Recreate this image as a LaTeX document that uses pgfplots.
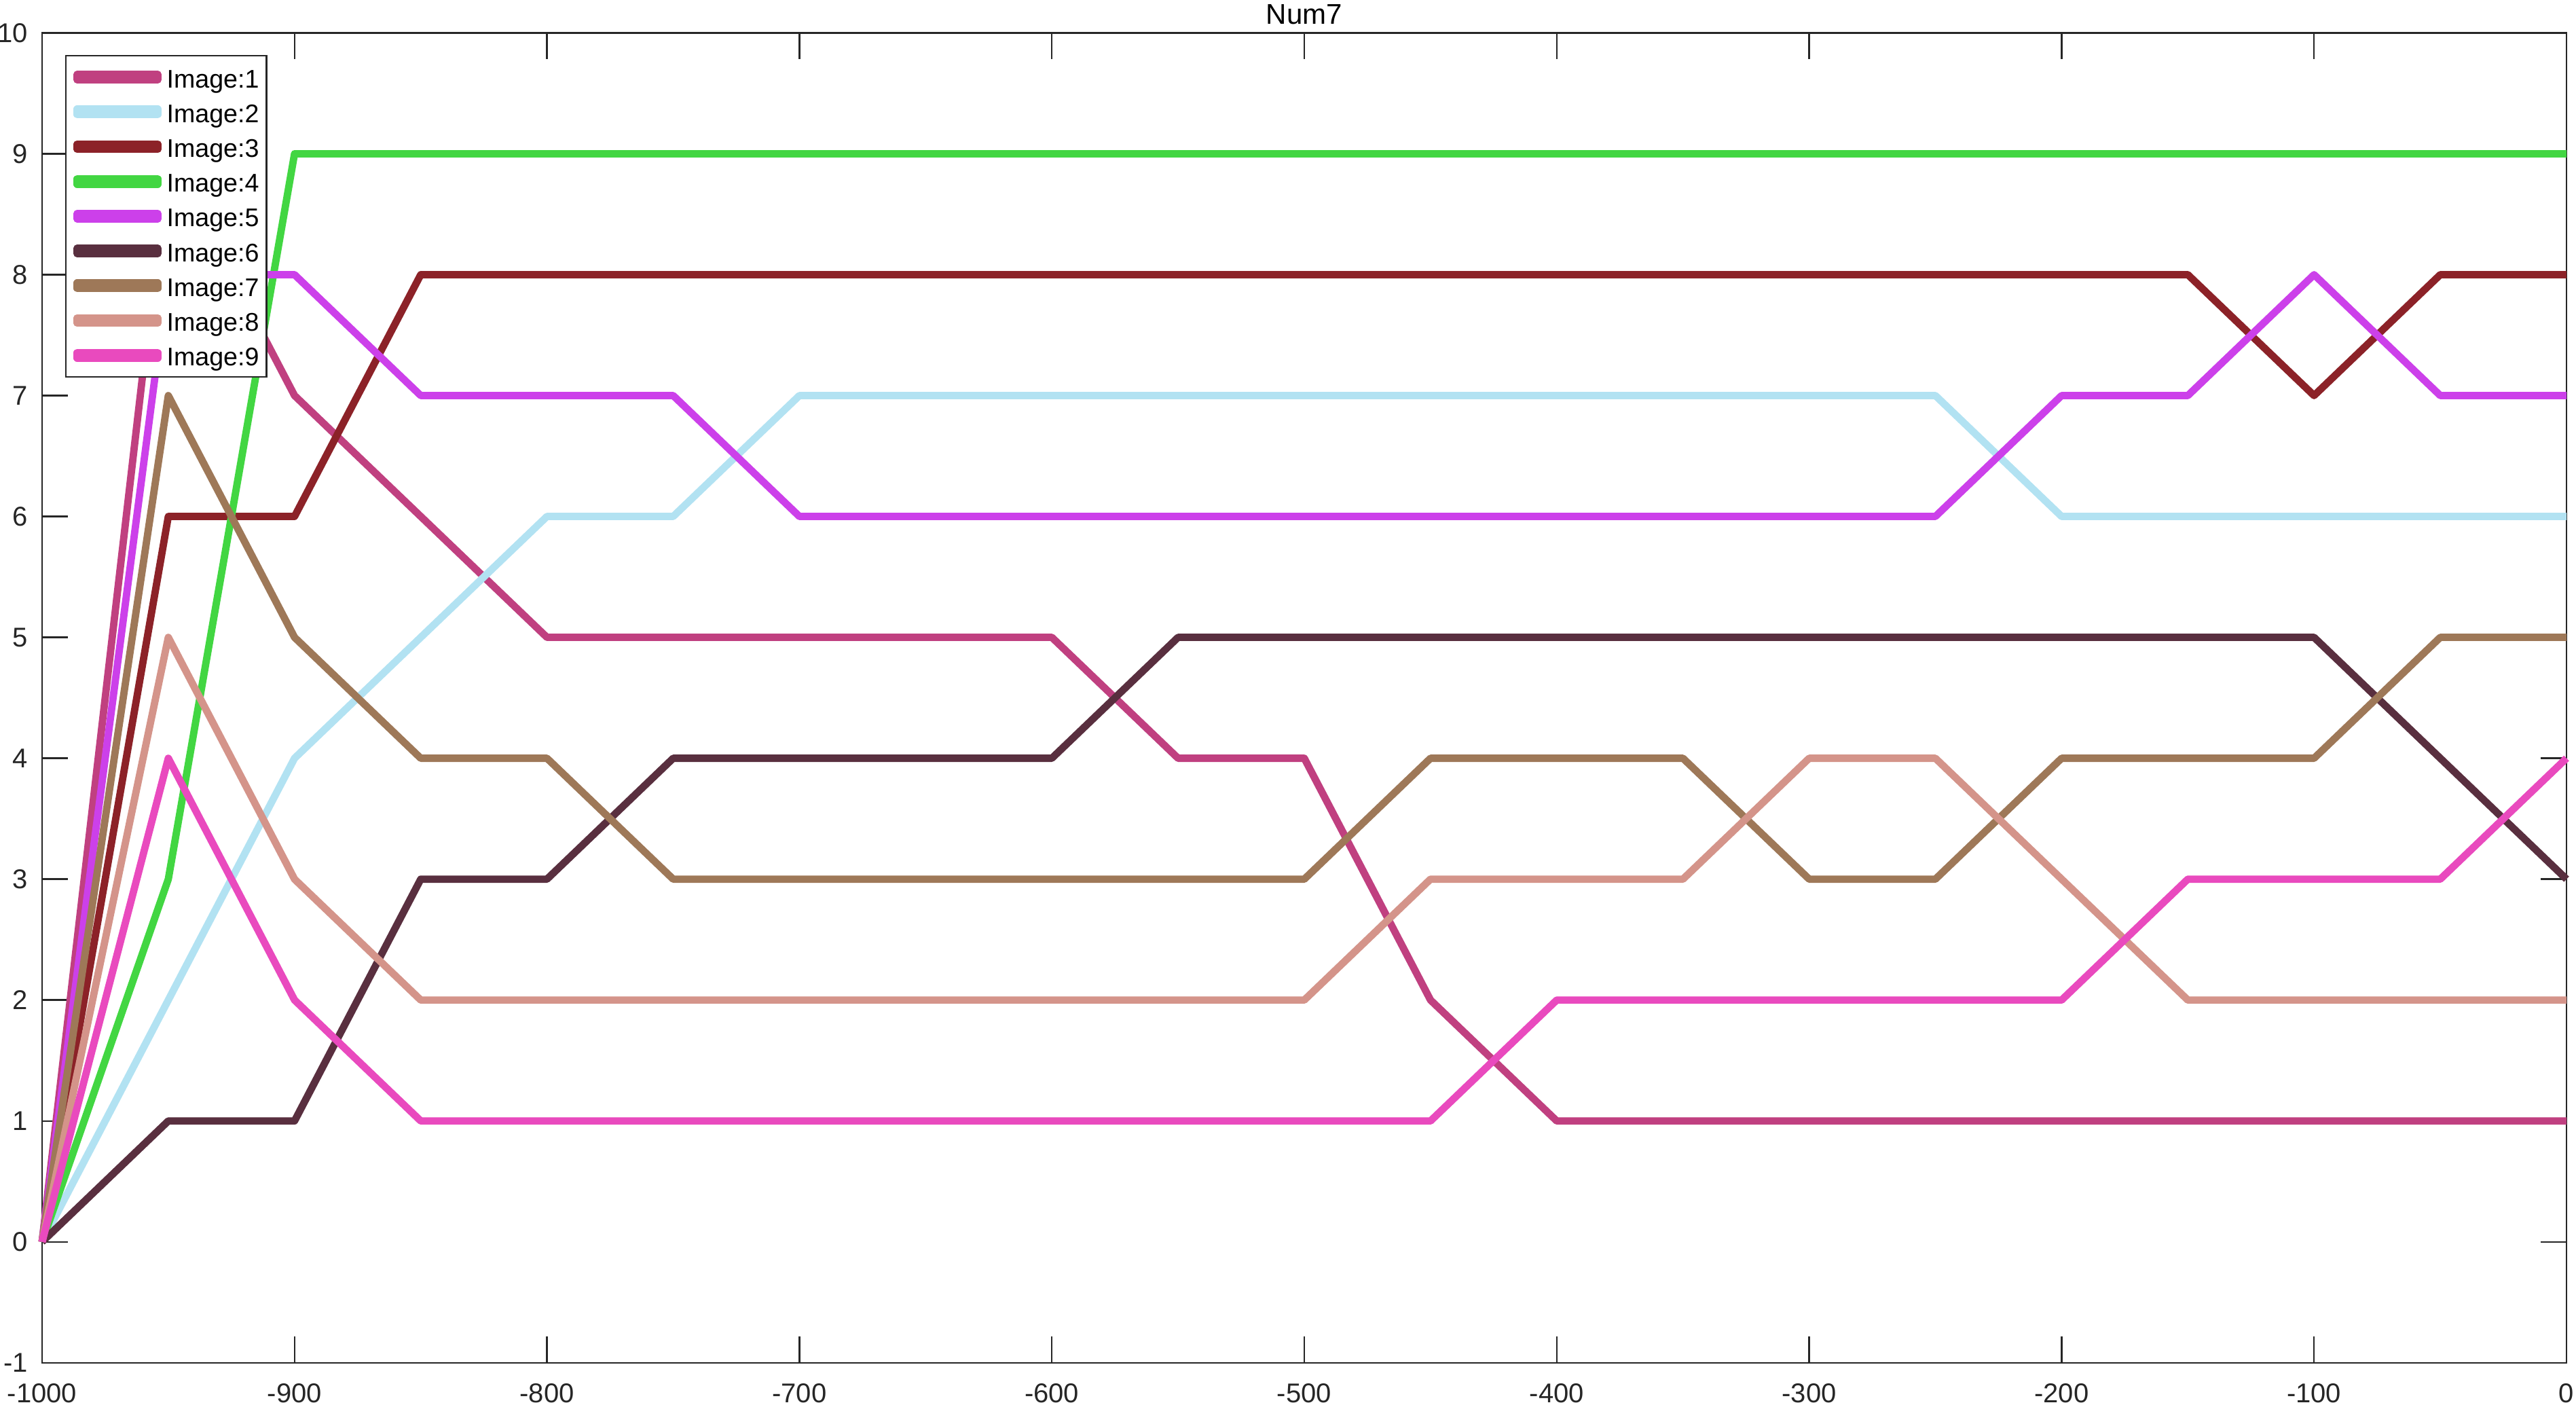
\documentclass[border=0pt]{standalone}
\usepackage{fontspec}
\setmainfont{Liberation Sans}
\usepackage{pgfplots}
\pgfplotsset{compat=1.18}
\definecolor{axgray}{RGB}{38,38,38}
\definecolor{cA}{RGB}{192,64,128}
\definecolor{cB}{RGB}{178,226,242}
\definecolor{cC}{RGB}{140,34,40}
\definecolor{cD}{RGB}{66,214,66}
\definecolor{cE}{RGB}{204,64,234}
\definecolor{cF}{RGB}{89,47,63}
\definecolor{cG}{RGB}{158,120,88}
\definecolor{cH}{RGB}{212,148,138}
\definecolor{cI}{RGB}{233,74,190}
\begin{document}
\begin{tikzpicture}
\begin{axis}[
  scale only axis,
  width=929.5pt, height=489.6pt,
  xmin=-1000, xmax=0, ymin=-1, ymax=10,
  xtick={-1000,-900,...,0},
  ytick={-1,0,...,10},
  /pgf/number format/assume math mode=true,
  /pgf/number format/1000 sep={},
  tick align=inside,
  major tick length=9.6pt,
  axis line style={color=axgray, line width=0.6pt},
  tick style={color=axgray, line width=0.6pt},
  xticklabel style={font=\fontsize{10}{12}\selectfont, color=axgray, inner sep=0pt, anchor=base, yshift=-14.75pt},
  yticklabel style={font=\fontsize{10}{12}\selectfont, color=axgray, inner sep=0pt, anchor=east, xshift=-5pt},
  every axis title shift=0pt,
  title={Num7},
  title style={font=\fontsize{10.5}{12}\selectfont, anchor=base, yshift=3.25pt},
  clip=false,
  every axis plot/.append style={line width=2.7pt, line join=round},
  legend cell align=left,
  legend image code/.code={\path[use as bounding box] (0pt,-1pt) rectangle (29.6pt,1pt); \draw[#1,line width=2.7pt] (0pt,0pt) -- (29.6pt,0pt);},
  legend style={at={(0,1)}, anchor=north west, xshift=8.5pt, yshift=-8.1pt,
    draw=axgray, line width=0.6pt, fill=white,
    font=\fontsize{9.4}{11}\selectfont,
    inner xsep=2.8pt, inner ysep=3.5pt, row sep=4.0pt, column sep=2pt,
    nodes={inner sep=0pt, text height=8.3pt, text depth=0.5pt}},
]
\addplot[cA] coordinates {(-1000,0)(-950,9)(-900,7)(-850,6)(-800,5)(-750,5)(-700,5)(-650,5)(-600,5)(-550,4)(-500,4)(-450,2)(-400,1)(-350,1)(-300,1)(-250,1)(-200,1)(-150,1)(-100,1)(-50,1)(0,1)};
\addlegendentry{Image:1}
\addplot[cB] coordinates {(-1000,0)(-950,2)(-900,4)(-850,5)(-800,6)(-750,6)(-700,7)(-650,7)(-600,7)(-550,7)(-500,7)(-450,7)(-400,7)(-350,7)(-300,7)(-250,7)(-200,6)(-150,6)(-100,6)(-50,6)(0,6)};
\addlegendentry{Image:2}
\addplot[cC] coordinates {(-1000,0)(-950,6)(-900,6)(-850,8)(-800,8)(-750,8)(-700,8)(-650,8)(-600,8)(-550,8)(-500,8)(-450,8)(-400,8)(-350,8)(-300,8)(-250,8)(-200,8)(-150,8)(-100,7)(-50,8)(0,8)};
\addlegendentry{Image:3}
\addplot[cD] coordinates {(-1000,0)(-950,3)(-900,9)(-850,9)(-800,9)(-750,9)(-700,9)(-650,9)(-600,9)(-550,9)(-500,9)(-450,9)(-400,9)(-350,9)(-300,9)(-250,9)(-200,9)(-150,9)(-100,9)(-50,9)(0,9)};
\addlegendentry{Image:4}
\addplot[cE] coordinates {(-1000,0)(-950,8)(-900,8)(-850,7)(-800,7)(-750,7)(-700,6)(-650,6)(-600,6)(-550,6)(-500,6)(-450,6)(-400,6)(-350,6)(-300,6)(-250,6)(-200,7)(-150,7)(-100,8)(-50,7)(0,7)};
\addlegendentry{Image:5}
\addplot[cF] coordinates {(-1000,0)(-950,1)(-900,1)(-850,3)(-800,3)(-750,4)(-700,4)(-650,4)(-600,4)(-550,5)(-500,5)(-450,5)(-400,5)(-350,5)(-300,5)(-250,5)(-200,5)(-150,5)(-100,5)(-50,4)(0,3)};
\addlegendentry{Image:6}
\addplot[cG] coordinates {(-1000,0)(-950,7)(-900,5)(-850,4)(-800,4)(-750,3)(-700,3)(-650,3)(-600,3)(-550,3)(-500,3)(-450,4)(-400,4)(-350,4)(-300,3)(-250,3)(-200,4)(-150,4)(-100,4)(-50,5)(0,5)};
\addlegendentry{Image:7}
\addplot[cH] coordinates {(-1000,0)(-950,5)(-900,3)(-850,2)(-800,2)(-750,2)(-700,2)(-650,2)(-600,2)(-550,2)(-500,2)(-450,3)(-400,3)(-350,3)(-300,4)(-250,4)(-200,3)(-150,2)(-100,2)(-50,2)(0,2)};
\addlegendentry{Image:8}
\addplot[cI] coordinates {(-1000,0)(-950,4)(-900,2)(-850,1)(-800,1)(-750,1)(-700,1)(-650,1)(-600,1)(-550,1)(-500,1)(-450,1)(-400,2)(-350,2)(-300,2)(-250,2)(-200,2)(-150,3)(-100,3)(-50,3)(0,4)};
\addlegendentry{Image:9}
\end{axis}
\pgfresetboundingbox
\path[use as bounding box] ([xshift=-15.5pt,yshift=-15.5pt]current axis.south west) rectangle ([xshift=3.5pt,yshift=12.1pt]current axis.north east);
\end{tikzpicture}
\end{document}
